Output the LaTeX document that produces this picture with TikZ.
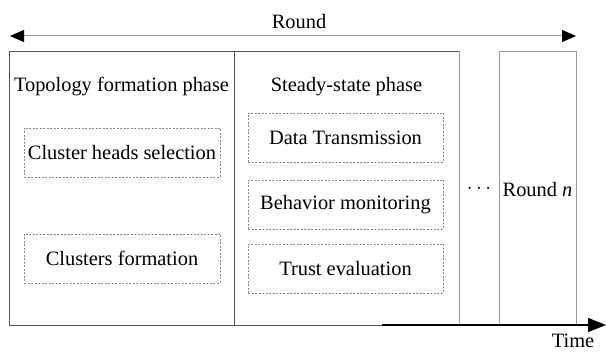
\documentclass[tikz,border=0pt]{standalone}
\usepackage{fontspec}
\setmainfont{Liberation Serif}
\usetikzlibrary{arrows.meta,positioning}
\definecolor{frame}{HTML}{555555}
\definecolor{light}{HTML}{999999}
\definecolor{dots}{HTML}{8A8A8A}

\begin{document}
\begin{tikzpicture}[x=1pt,y=-1pt,font=\fontsize{20.4}{24}\selectfont,
  ph/.style={draw=frame,line width=0.9pt,anchor=north west,inner sep=0pt},
  rn/.style={ph,draw=light},
  sub/.style={draw=dots,line width=0.7pt,dash pattern=on 2pt off 1.5pt,minimum width=196pt,minimum height=49pt,inner sep=0pt},
  lbl/.style={inner sep=0pt},
  a/.style={{Triangle[length=14pt,width=12pt,color=black]}-{Triangle[length=14pt,width=12pt,color=black]},light,line width=1pt}]
\useasboundingbox (0,0) rectangle (606,352);
% phases of one round
\node[ph,minimum width=225pt,minimum height=274pt] (topo) at (9,51) {};
\node[ph,minimum width=225pt,minimum height=274pt] (steady) at (234,51) {};
\draw[light,line width=0.9pt] (steady.north east) -- (steady.south east);
\node[rn,minimum width=77pt,minimum height=274pt] (last) at (499,51) {};
\node[lbl] (topoT) at (121.5,87) {Topology formation phase};
\node[lbl] (steadyT) at (346.5,87) {Steady-state phase};
% sub-steps
\node[sub] (chs) at (122,152.5) {Cluster heads selection};
\node[sub] (cf)  at (122,258.5) {Clusters formation};
\node[sub,minimum width=195pt] (dt) at (345.5,137.5) {Data Transmission};
\node[sub,minimum width=195pt] (bm) at (345.5,204.5) {Behavior monitoring};
\node[sub,minimum width=195pt] (te) at (345.5,268.5) {Trust evaluation};
\node[lbl] (dots) at (479,189) {$\cdots$};
\node[lbl] (roundn) at (537.5,190) {Round \textit{n}};
% round span and time axis
\coordinate (rl) at (10,36);
\coordinate (rr) at (576,36);
\draw[a] (rl) -- (rr);
\node[lbl] (roundT) at (299,22) {Round};
\coordinate (t0) at (382,325);
\coordinate (t1) at (606,325);
\draw[-{Triangle[length=18pt,width=14pt]},line width=1.3pt] (t0) -- (t1);
\node[lbl] (timeT) at (573,341) {Time};
\end{tikzpicture}
\end{document}
